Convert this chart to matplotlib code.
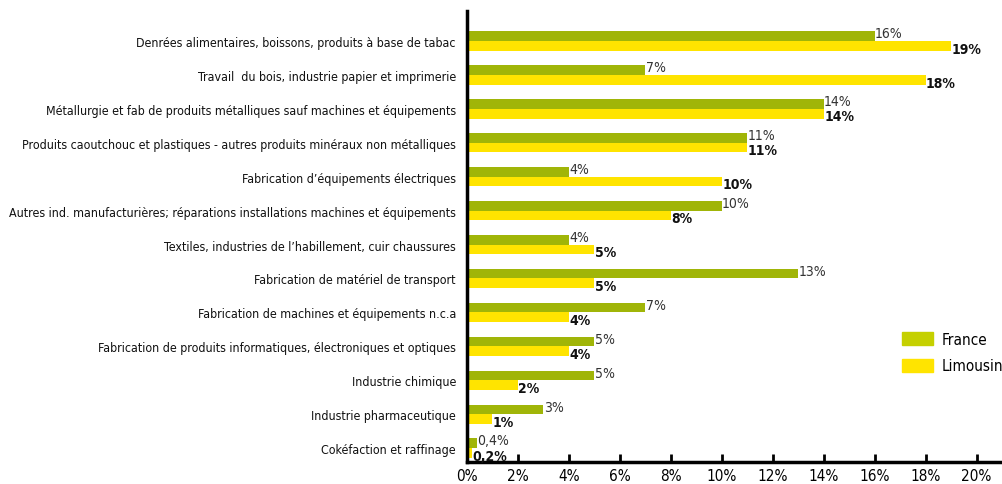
import matplotlib
matplotlib.use("Agg")
import matplotlib.pyplot as plt
from matplotlib import font_manager
from matplotlib.patches import Patch
import numpy as np

categories = [
    "Denrées alimentaires, boissons, produits à base de tabac",
    "Travail  du bois, industrie papier et imprimerie",
    "Métallurgie et fab de produits métalliques sauf machines et équipements",
    "Produits caoutchouc et plastiques - autres produits minéraux non métalliques",
    "Fabrication d\u2019équipements électriques",
    "Autres ind. manufacturières; réparations installations machines et équipements",
    "Textiles, industries de l\u2019habillement, cuir chaussures",
    "Fabrication de matériel de transport",
    "Fabrication de machines et équipements n.c.a",
    "Fabrication de produits informatiques, électroniques et optiques",
    "Industrie chimique",
    "Industrie pharmaceutique",
    "Cokéfaction et raffinage",
]
france = [16, 7, 14, 11, 4, 10, 4, 13, 7, 5, 5, 3, 0.4]
limousin = [19, 18, 14, 11, 10, 8, 5, 5, 4, 4, 2, 1, 0.2]
france_labels = ["16%", "7%", "14%", "11%", "4%", "10%", "4%", "13%", "7%", "5%", "5%", "3%", "0,4%"]
limousin_labels = ["19%", "18%", "14%", "11%", "10%", "8%", "5%", "5%", "4%", "4%", "2%", "1%", "0,2%"]
xticks = [0, 2, 4, 6, 8, 10, 12, 14, 16, 18, 20]
xtick_labels = ["0%", "2%", "4%", "6%", "8%", "10%", "12%", "14%", "16%", "18%", "20%"]
series_names = ["France", "Limousin"]

avail = {f.name for f in font_manager.fontManager.ttflist}
fam = "Liberation Sans Narrow" if "Liberation Sans Narrow" in avail else "DejaVu Sans"
stretch = "normal" if fam == "Liberation Sans Narrow" else "condensed"
plt.rcParams["font.family"] = [fam, "DejaVu Sans"]
plt.rcParams["font.stretch"] = stretch

c_fr = "#a0b508"
c_li = "#ffe400"
c_fr_leg = "#c5d000"

fig = plt.figure(figsize=(10.02, 4.85), dpi=100)
ax = fig.add_axes([467 / 1002, 1 - 463 / 485, 1 - 467 / 1002, (463 - 12) / 485])

n = len(categories)
y = np.arange(n)
h = 0.285
ax.barh(y - h / 2, france, height=h, color=c_fr, zorder=2)
ax.barh(y + h / 2, limousin, height=h, color=c_li, zorder=2)

for i in range(n):
    ax.annotate(france_labels[i], (france[i], y[i] - h / 2), xytext=(0.3, 2),
                textcoords="offset points", ha="left", va="center",
                fontsize=10, color="#333333")
    ax.annotate(limousin_labels[i], (limousin[i], y[i] + h / 2), xytext=(0.3, -2),
                textcoords="offset points", ha="left", va="center",
                fontsize=10, fontweight="bold", color="#111111")

ax.set_ylim(n - 1 + 0.41, -0.885)
ax.set_xlim(0, 21)
ax.set_yticks(y)
ax.set_yticklabels(categories, fontsize=8.9, color="#111111")
ax.set_xticks(xticks)
ax.set_xticklabels(xtick_labels, fontsize=11)
ax.tick_params(axis="y", length=0, pad=8)
ax.tick_params(axis="x", direction="in", length=6, width=2, pad=4)
for s in ["top", "right"]:
    ax.spines[s].set_visible(False)
for s in ["left", "bottom"]:
    ax.spines[s].set_linewidth(2.5)
    ax.spines[s].set_color("black")

handles = [Patch(color=c_fr_leg), Patch(color=c_li)]
leg = fig.legend(handles, series_names, loc="upper left",
                 bbox_to_anchor=(902 / 1002, 1 - 333 / 485), frameon=False, fontsize=11,
                 handlelength=2.0, handleheight=0.9, handletextpad=0.6, labelspacing=0.75,
                 borderpad=0, borderaxespad=0)

fig.savefig("out.png", dpi=100)
